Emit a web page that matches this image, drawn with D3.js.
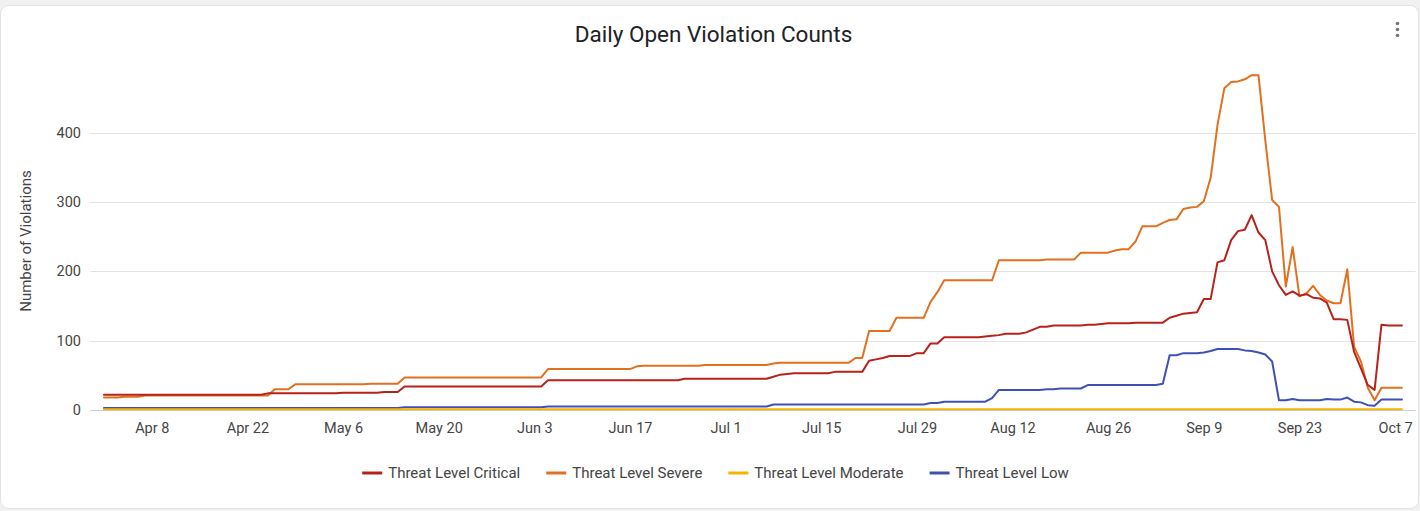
<!DOCTYPE html>
<html>
<head>
<meta charset="utf-8">
<script src="https://cdn.jsdelivr.net/npm/d3@7"></script>
<style>
  html, body { margin: 0; padding: 0; background: #f1f1f1; }
  svg { display: block; }
  text { font-family: Roboto, "Noto Sans", Arial, sans-serif; }
</style>
</head>
<body>
<svg id="chart" width="1420" height="511"></svg>
<script>
// ---------- DATA ----------
const title = "Daily Open Violation Counts";
const yAxisTitle = "Number of Violations";
const startDate = "2024-04-01"; // first daily point (Apr 1 ... Oct 8)
const seriesNames = ["Threat Level Critical", "Threat Level Severe", "Threat Level Moderate", "Threat Level Low"];
const seriesColors = ["#b7221a", "#e3701f", "#f4b400", "#4051b5"];

const critical = [
  22,22,22,22,22,22,22,22,22,22,
  22,22,22,22,22,22,22,22,22,22,
  22,22,22,22,24,24,24,24,24,24,
  24,24,24,24,24,25,25,25,25,25,
  25,26,26,26,34,34,34,34,34,34,
  34,34,34,34,34,34,34,34,34,34,
  34,34,34,34,34,43,43,43,43,43,
  43,43,43,43,43,43,43,43,43,43,
  43,43,43,43,43,45,45,45,45,45,
  45,45,45,45,45,45,45,45,48,51,
  52,53,53,53,53,53,53,55,55,55,
  55,55,71,73,75,78,78,78,78,82,
  82,96,96,105,105,105,105,105,105,106,
  107,108,110,110,110,112,116,120,120,122,
  122,122,122,122,123,123,124,125,125,125,
  125,126,126,126,126,126,133,136,139,140,
  141,160,160,213,216,245,258,260,281,256,
  245,200,180,166,171,165,167,162,161,155,
  131,131,130,84,60,36,29,123,122,122,
  122
];
const severe = [
  18,18,18,19,19,19,21,21,21,21,
  21,21,21,21,21,21,21,21,21,21,
  21,21,21,21,21,30,30,30,37,37,
  37,37,37,37,37,37,37,37,37,38,
  38,38,38,38,47,47,47,47,47,47,
  47,47,47,47,47,47,47,47,47,47,
  47,47,47,47,47,59,59,59,59,59,
  59,59,59,59,59,59,59,59,63,64,
  64,64,64,64,64,64,64,64,65,65,
  65,65,65,65,65,65,65,65,67,68,
  68,68,68,68,68,68,68,68,68,68,
  75,75,114,114,114,114,133,133,133,133,
  133,156,170,187,187,187,187,187,187,187,
  187,216,216,216,216,216,216,216,217,217,
  217,217,217,227,227,227,227,227,230,232,
  232,243,265,265,265,270,274,275,290,292,
  293,301,335,411,464,473,474,477,483,483,
  389,303,293,178,235,164,168,179,166,158,
  154,154,203,91,70,32,14,32,32,32,
  32
];
const moderate = [
  1,1,1,1,1,1,1,1,1,1, 1,1,1,1,1,1,1,1,1,1,
  1,1,1,1,1,1,1,1,1,1, 1,1,1,1,1,1,1,1,1,1,
  1,1,1,1,1,1,1,1,1,1, 1,1,1,1,1,1,1,1,1,1,
  1,1,1,1,1,1,1,1,1,1, 1,1,1,1,1,1,1,1,1,1,
  1,1,1,1,1,1,1,1,1,1, 1,1,1,1,1,1,1,1,1,1,
  1,1,1,1,1,1,1,1,1,1, 1,1,1,1,1,1,1,1,1,1,
  1,1,1,1,1,1,1,1,1,1, 1,1,1,1,1,1,1,1,1,1,
  1,1,1,1,1,1,1,1,1,1, 1,1,1,1,1,1,1,1,1,1,
  1,1,1,1,1,1,1,1,1,1, 1,1,1,1,1,1,1,1,1,1,
  1,1,1,1,1,1,1,1,1,1,
  1
];
const low = [
  3,3,3,3,3,3,3,3,3,3,
  3,3,3,3,3,3,3,3,3,3,
  3,3,3,3,3,3,3,3,3,3,
  3,3,3,3,3,3,3,3,3,3,
  3,3,3,3,4,4,4,4,4,4,
  4,4,4,4,4,4,4,4,4,4,
  4,4,4,4,4,5,5,5,5,5,
  5,5,5,5,5,5,5,5,5,5,
  5,5,5,5,5,5,5,5,5,5,
  5,5,5,5,5,5,5,5,8,8,
  8,8,8,8,8,8,8,8,8,8,
  8,8,8,8,8,8,8,8,8,8,
  8,10,10,12,12,12,12,12,12,12,
  17,29,29,29,29,29,29,29,30,30,
  31,31,31,31,36,36,36,36,36,36,
  36,36,36,36,36,38,79,79,82,82,
  82,83,85,88,88,88,88,86,85,83,
  80,70,14,14,16,14,14,14,14,16,
  15,15,18,12,11,7,6,15,15,15,
  15
];
const yTicks = [0, 100, 200, 300, 400];
const xTickDates = ["2024-04-08","2024-04-22","2024-05-06","2024-05-20","2024-06-03","2024-06-17","2024-07-01","2024-07-15","2024-07-29","2024-08-12","2024-08-26","2024-09-09","2024-09-23","2024-10-07"];
const xTickLabels = ["Apr 8","Apr 22","May 6","May 20","Jun 3","Jun 17","Jul 1","Jul 15","Jul 29","Aug 12","Aug 26","Sep 9","Sep 23","Oct 7"];
const xDomain = ["2024-03-30", "2024-10-10"];

// ---------- DRAW ----------
const parse = d3.utcParse("%Y-%m-%d");
const start = parse(startDate);
const values = [critical, severe, moderate, low];
const dates = critical.map((_, i) => d3.utcDay.offset(start, i));

const svg = d3.select("#chart");

// card
svg.append("rect").attr("x", 0.5).attr("y", 5.5).attr("width", 1418).attr("height", 503)
  .attr("rx", 8).attr("fill", "#fff").attr("stroke", "#e2e2e2");

const x = d3.scaleUtc().domain(xDomain.map(parse)).range([90.3, 1415.6]);
const y = d3.scaleLinear().domain([0, 400]).range([410, 132.7]);

// gridlines
svg.append("g").selectAll("line").data(yTicks.filter(t => t > 0)).join("line")
  .attr("x1", x.range()[0]).attr("x2", x.range()[1])
  .attr("y1", d => Math.round(y(d)) + 0.5).attr("y2", d => Math.round(y(d)) + 0.5)
  .attr("stroke", "#e3e3e3").attr("stroke-width", 1);

// y axis labels
const yAxis = d3.axisLeft(y).tickValues(yTicks).tickSize(0).tickPadding(0).tickFormat(d3.format("d"));
const gy = svg.append("g").attr("transform", "translate(81,0)").call(yAxis);
gy.select(".domain").remove();
gy.selectAll("text").attr("font-size", 14.5).attr("fill", "#444").attr("font-family", "Roboto, sans-serif");

// x axis labels
const xAxis = d3.axisBottom(x).tickValues(xTickDates.map(parse)).tickSize(0).tickPadding(0)
  .tickFormat((d, i) => xTickLabels[i]);
const gx = svg.append("g").attr("transform", "translate(0,423)").call(xAxis);
gx.select(".domain").remove();
gx.selectAll("text").attr("font-size", 14.5).attr("fill", "#444").attr("dy", "0.72em").attr("font-family", "Roboto, sans-serif");

// baseline
svg.append("line").attr("x1", x.range()[0]).attr("x2", x.range()[1])
  .attr("y1", y(0) + 0.5).attr("y2", y(0) + 0.5)
  .attr("stroke", "#c9cfe3").attr("stroke-width", 1.2);

// lines (critical drawn on top)
const line = d3.line().x((d, i) => x(dates[i])).y(d => y(d));
const order = [3, 2, 1, 0];
svg.append("g").selectAll("path").data(order).join("path")
  .attr("d", k => line(values[k]))
  .attr("fill", "none")
  .attr("stroke", k => seriesColors[k])
  .attr("stroke-width", 2)
  .attr("stroke-linejoin", "round")
  .attr("stroke-linecap", "round");

// title
svg.append("text").attr("x", 713.5).attr("y", 42).attr("text-anchor", "middle")
  .attr("font-size", 22.5).attr("fill", "#202124").text(title);

// kebab menu
svg.append("g").selectAll("circle").data([23.5, 29.5, 35.5]).join("circle")
  .attr("cx", 1397.5).attr("cy", d => d).attr("r", 1.8).attr("fill", "#757575");

// y axis title
svg.append("text").attr("transform", "translate(31,241) rotate(-90)")
  .attr("text-anchor", "middle").attr("font-size", 15).attr("fill", "#444").text(yAxisTitle);

// legend
const lg = svg.append("g");
const items = lg.selectAll("g").data(seriesNames).join("g");
items.append("line").attr("x1", 0).attr("x2", 20).attr("y1", 0).attr("y2", 0)
  .attr("stroke", (d, i) => seriesColors[i]).attr("stroke-width", 3);
items.append("text").attr("x", 26).attr("y", 5).attr("font-size", 15).attr("fill", "#444").text(d => d);
let widths = [];
items.each(function () { widths.push(26 + d3.select(this).select("text").node().getComputedTextLength()); });
const gap = 26;
const total = d3.sum(widths) + gap * (widths.length - 1);
let cx = 715.5 - total / 2;
items.attr("transform", (d, i) => { const t = `translate(${cx},473)`; cx += widths[i] + gap; return t; });
</script>
</body>
</html>
